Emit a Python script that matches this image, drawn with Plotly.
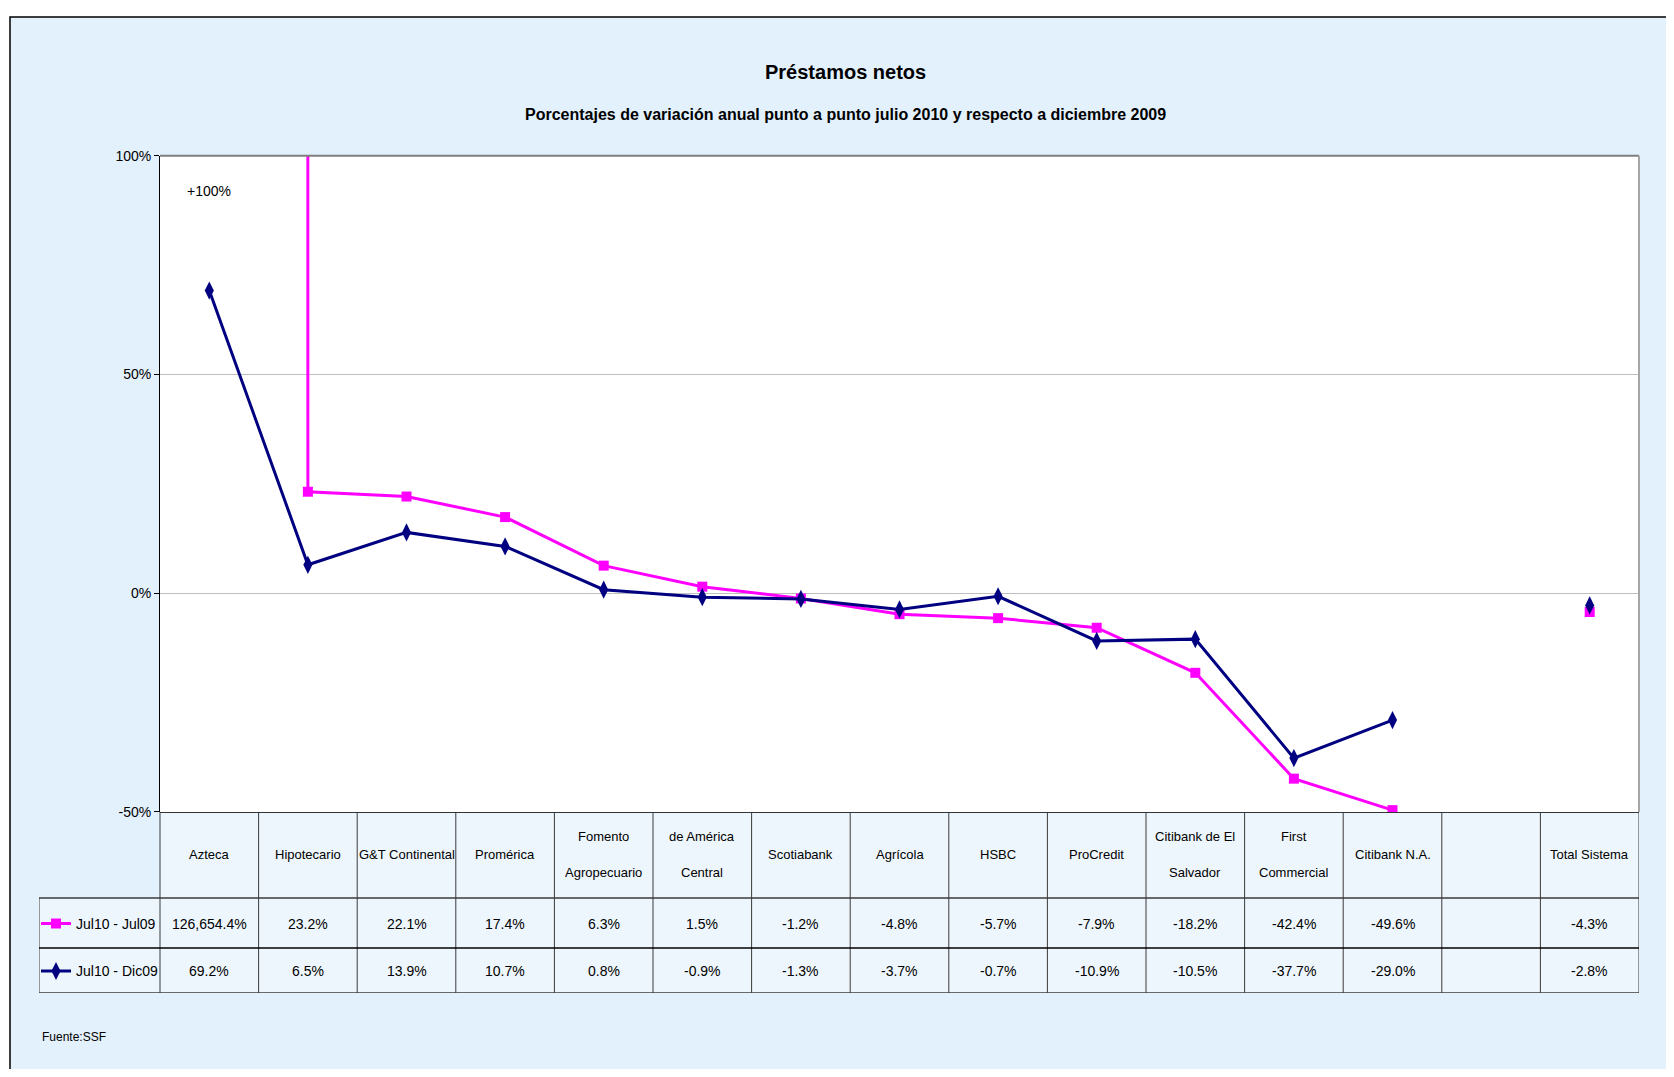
import plotly.graph_objects as go

# ---------------- data ----------------
categories = ["Azteca", "Hipotecario", "G&T Continental", "Promérica",
              "Fomento\nAgropecuario", "de América\nCentral", "Scotiabank",
              "Agrícola", "HSBC", "ProCredit", "Citibank de El\nSalvador",
              "First\nCommercial", "Citibank N.A.", "", "Total Sistema"]
series_names = ["Jul10 - Jul09", "Jul10 - Dic09"]
jul10_jul09 = [126654.4, 23.2, 22.1, 17.4, 6.3, 1.5, -1.2, -4.8, -5.7, -7.9,
               -18.2, -42.4, -49.6, None, -4.3]
jul10_dic09 = [69.2, 6.5, 13.9, 10.7, 0.8, -0.9, -1.3, -3.7, -0.7, -10.9,
               -10.5, -37.7, -29.0, None, -2.8]
y_ticks = [-50, 0, 50, 100]
y_tick_labels = ["-50%", "0%", "50%", "100%"]

# ---------------- layout geometry (target page pixels) ----------------
OFFX = 8                                 # page body margin (x)
OFFY, SY = 15.2, 0.9848                  # observed vertical page mapping
W, H = 1674 - 16, 1077 - 16             # figure size
L, R, T, B = 160, 1639, 155, 811        # main plot area
TB = 992                                # table bottom
LEG_L = 39                              # left of legend column
HDR, ROW1 = 86, 136                     # row boundaries inside table (px from table top)

def px(x):
    return (x - OFFX) / W

def py(y):
    return 1 - ((y - OFFY) / SY) / H

FONT = "Liberation Sans, Arial, sans-serif"
MAG = "#FF00FF"
NAVY = "#000080"
BG = "#E3F1FC"
CELL = "#EEF6FD"
LINE = "#3A3A3A"

n = len(categories)
xs = list(range(n))
cw = (R - L) / n
x2_left = -0.5 - (L - LEG_L) / cw

fig = go.Figure()

fig.add_trace(go.Scatter(
    x=xs, y=jul10_jul09, name=series_names[0], mode="lines+markers",
    line=dict(color=MAG, width=3), connectgaps=False,
    marker=dict(symbol="square", size=10, color=MAG),
    cliponaxis=False, legend="legend"))
fig.add_trace(go.Scatter(
    x=xs, y=jul10_dic09, name=series_names[1], mode="lines+markers",
    line=dict(color=NAVY, width=3), connectgaps=False,
    marker=dict(symbol="diamond-tall", size=13, color=NAVY),
    cliponaxis=False, legend="legend2"))

shapes = []
# outer frame
shapes.append(dict(type="rect", xref="paper", yref="paper",
                   x0=px(10), x1=1.02, y0=-0.02, y1=0.999,
                   fillcolor=BG, line=dict(color="black", width=1.5), layer="below"))
# main plot white bg
shapes.append(dict(type="rect", xref="paper", yref="paper",
                   x0=px(L), x1=px(R), y0=py(B), y1=py(T),
                   fillcolor="white", line=dict(width=0), layer="below"))
# table fills
shapes.append(dict(type="rect", xref="x2", yref="y2",
                   x0=-0.5, x1=n - 0.5, y0=0, y1=HDR,
                   fillcolor=CELL, line=dict(width=0), layer="below"))
shapes.append(dict(type="rect", xref="x2", yref="y2",
                   x0=x2_left, x1=n - 0.5, y0=HDR, y1=TB - B,
                   fillcolor=CELL, line=dict(width=0), layer="below"))
# table vertical lines
for k in range(n + 1):
    shapes.append(dict(type="line", xref="x2", yref="y2",
                       x0=k - 0.5, x1=k - 0.5, y0=0, y1=TB - B,
                       line=dict(color=LINE, width=1), layer="below"))
shapes.append(dict(type="line", xref="x2", yref="y2",
                   x0=x2_left, x1=x2_left, y0=HDR, y1=TB - B,
                   line=dict(color=LINE, width=1), layer="below"))
# table horizontal lines
for yy, c, w in [(HDR, LINE, 1.5), (ROW1, "black", 1.5), (TB - B, LINE, 1.5)]:
    shapes.append(dict(type="line", xref="x2", yref="y2",
                       x0=x2_left, x1=n - 0.5, y0=yy, y1=yy,
                       line=dict(color=c, width=w), layer="below"))
shapes.append(dict(type="line", xref="x2", yref="y2",
                   x0=-0.5, x1=n - 0.5, y0=0, y1=0,
                   line=dict(color="#333333", width=2), layer="above"))
# plot border (top/right)
shapes.append(dict(type="line", xref="x domain", yref="y domain",
                   x0=0, x1=1, y0=1, y1=1, line=dict(color="#7F7F7F", width=2)))
shapes.append(dict(type="line", xref="x domain", yref="y domain",
                   x0=1, x1=1, y0=0, y1=1, line=dict(color="#A6A6A6", width=2)))

ann = []
ann.append(dict(text="<b>Préstamos netos</b>", xref="paper", yref="paper",
                x=px(845), y=py(71), showarrow=False, xanchor="center", yanchor="middle",
                font=dict(family=FONT, size=20, color="black")))
ann.append(dict(text="<b>Porcentajes de variación anual punto a punto julio 2010 y respecto a diciembre 2009</b>",
                xref="paper", yref="paper", x=px(845), y=py(114), showarrow=False,
                xanchor="center", yanchor="middle",
                font=dict(family=FONT, size=16, color="black")))
ann.append(dict(text="+100%", xref="x", yref="y", x=0, y=92, showarrow=False,
                xanchor="center", yanchor="middle",
                font=dict(family=FONT, size=14, color="black")))
ann.append(dict(text="Fuente:SSF", xref="paper", yref="paper", x=px(40), y=py(1036),
                showarrow=False, xanchor="left", yanchor="middle",
                font=dict(family=FONT, size=12, color="black")))

# table text
for i, cat in enumerate(categories):
    lines = cat.split("\n") if cat else []
    if len(lines) == 1:
        offs = [HDR / 2]
    else:
        offs = [HDR / 2 - 18, HDR / 2 + 18]
    for t, o in zip(lines, offs):
        ann.append(dict(text=t, xref="x2", yref="y2", x=i, y=o, showarrow=False,
                        xanchor="center", yanchor="middle",
                        font=dict(family=FONT, size=13, color="black")))
    for vals, yc in [(jul10_jul09, (HDR + ROW1) / 2 + 1), (jul10_dic09, (ROW1 + TB - B) / 2 + 1)]:
        v = vals[i]
        if v is None:
            continue
        ann.append(dict(text=f"{v:,.1f}%", xref="x2", yref="y2", x=i, y=yc,
                        showarrow=False, xanchor="center", yanchor="middle",
                        font=dict(family=FONT, size=14, color="black")))

fig.update_layout(
    width=W, height=H, margin=dict(l=0, r=0, t=0, b=0), autosize=False,
    paper_bgcolor="white", plot_bgcolor="rgba(0,0,0,0)",
    font=dict(family=FONT, color="black"),
    shapes=shapes, annotations=ann,
    xaxis=dict(domain=[px(L), px(R)], range=[-0.5, n - 0.5], showticklabels=False,
               showgrid=False, zeroline=False, showline=False, ticks="", anchor="y"),
    yaxis=dict(domain=[py(B), py(T)], range=[-50, 100], tickvals=y_ticks,
               ticktext=y_tick_labels, showgrid=True, gridcolor="#BFBFBF", gridwidth=1,
               zeroline=False, showline=True, linecolor="black", linewidth=1,
               ticks="outside", ticklen=5, tickcolor="black",
               tickfont=dict(family=FONT, size=14, color="black"), anchor="x"),
    xaxis2=dict(domain=[px(LEG_L), px(R)], range=[x2_left, n - 0.5], visible=False,
                anchor="y2"),
    yaxis2=dict(domain=[py(TB), py(B)], range=[TB - B, 0], visible=False, anchor="x2"),
    legend=dict(x=px(36), xanchor="left", y=py(B + (HDR + ROW1) / 2 + 1),
                yanchor="middle", bgcolor="rgba(0,0,0,0)", itemwidth=30,
                font=dict(family=FONT, size=14, color="black")),
    legend2=dict(x=px(36), xanchor="left", y=py(B + (ROW1 + TB - B) / 2 + 1),
                 yanchor="middle", bgcolor="rgba(0,0,0,0)", itemwidth=30,
                 font=dict(family=FONT, size=14, color="black")),
    showlegend=True,
)

fig.write_html("out.html")
